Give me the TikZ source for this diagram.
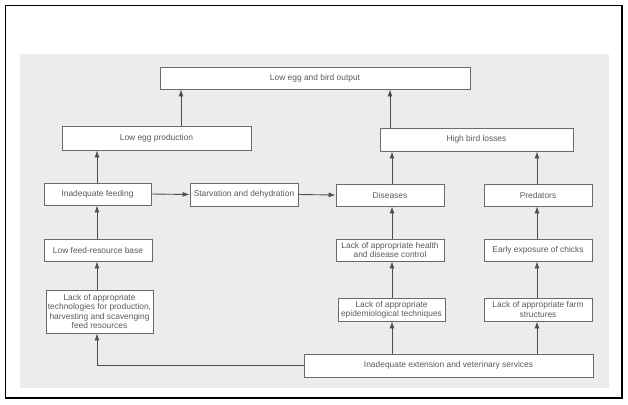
\documentclass[tikz,border=0pt]{standalone}
\usepackage{fontspec}
\setmainfont{Liberation Sans}
\usetikzlibrary{arrows.meta,calc}
\definecolor{panel}{HTML}{ECECEC}
\definecolor{boxline}{HTML}{6A6A6A}
\definecolor{txt}{HTML}{5A5A5A}
\definecolor{arrline}{HTML}{4E4E4E}
\tikzset{
  cbox/.style={draw=boxline, line width=0.9pt, fill=white, inner sep=0pt, align=center,
    text=txt, font=\fontsize{8.4}{9.2}\selectfont},
  arr/.style={draw=arrline, line width=0.9pt, -{Latex[length=7pt,width=5pt]}}
}
\begin{document}
\begin{tikzpicture}[x=1pt,y=-1pt]
\useasboundingbox (0,0) rectangle (628,404);
\fill[white] (0,0) rectangle (628,404);
\fill[panel] (20,54) rectangle (609,388);
\draw[black, line width=1.4pt] (5.5,5.5) rectangle (622,398);

\node[cbox, minimum width=310pt, minimum height=22pt] (top) at (315,78) {Low egg and bird output};
\node[cbox, minimum width=189pt, minimum height=24pt] (egg) at (156.5,138) {Low egg production};
\node[cbox, minimum width=193pt, minimum height=23pt] (loss) at (476.5,139.5) {High bird losses};
\node[cbox, minimum width=107pt, minimum height=22pt] (feed) at (97.5,194) {Inadequate feeding};
\node[cbox, minimum width=108pt, minimum height=23pt] (starv) at (244,194.5) {Starvation and dehydration};
\node[cbox, minimum width=108pt, minimum height=22pt] (dis) at (390,195) {Diseases};
\node[cbox, minimum width=108pt, minimum height=22pt] (pred) at (538,195) {Predators};
\node[cbox, minimum width=108pt, minimum height=22pt] (base) at (98,250) {Low feed-resource base};
\node[cbox, minimum width=108pt, minimum height=22pt] (health) at (390,250) {Lack of appropriate health\\and disease control};
\node[cbox, minimum width=108pt, minimum height=22pt] (early) at (538,250) {Early exposure of chicks};
\node[cbox, minimum width=107pt, minimum height=43pt] (tech) at (99.5,311.5) {Lack of appropriate\\technologies for production,\\harvesting and scavenging\\feed resources};
\node[cbox, minimum width=107pt, minimum height=23pt] (epi) at (391.5,309.5) {Lack of appropriate\\epidemiological techniques};
\node[cbox, minimum width=108pt, minimum height=23pt] (farm) at (538,309.5) {Lack of appropriate farm\\structures};
\node[cbox, minimum width=289pt, minimum height=23pt] (ext) at (448.5,365.5) {Inadequate extension and veterinary services};

\coordinate (cA) at (181,0);
\coordinate (cB) at (390,0);
\coordinate (cF) at (97,0);
\coordinate (cD) at (392,0);
\coordinate (cP) at (537,0);

\draw[arr] (egg.north -| cA) -- (top.south -| cA);
\draw[arr] (loss.north -| cB) -- (top.south -| cB);
\draw[arr] (feed.north -| cF) -- (egg.south -| cF);
\draw[arr] (dis.north -| cD) -- (loss.south -| cD);
\draw[arr] (pred.north -| cP) -- (loss.south -| cP);
\draw[arr] (feed.east) -- (starv.west);
\draw[arr] (starv.east) -- (dis.west);
\draw[arr] (base.north -| cF) -- (feed.south -| cF);
\draw[arr] (tech.north -| cF) -- (base.south -| cF);
\draw[arr] (health.north -| cD) -- (dis.south -| cD);
\draw[arr] (epi.north -| cD) -- (health.south -| cD);
\draw[arr] (early.north -| cP) -- (pred.south -| cP);
\draw[arr] (farm.north -| cP) -- (early.south -| cP);
\draw[arr] (ext.north -| cD) -- (epi.south -| cD);
\draw[arr] (ext.north -| cP) -- (farm.south -| cP);
\draw[arr] (ext.west) -| (tech.south -| cF);
\end{tikzpicture}
\end{document}
